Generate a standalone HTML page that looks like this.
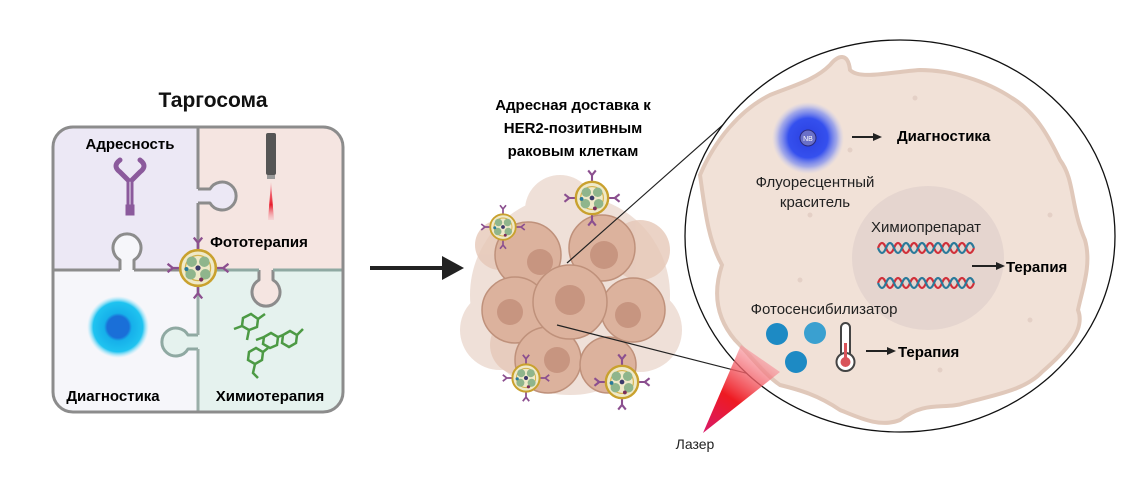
<!DOCTYPE html>
<html><head><meta charset="utf-8"><style>
html,body{margin:0;padding:0;background:#fff;}
svg{display:block;}
text{font-family:"Liberation Sans",sans-serif;}
.b{font-weight:bold;}
</style></head><body>
<svg width="1132" height="477" viewBox="0 0 1132 477" xmlns="http://www.w3.org/2000/svg">
<defs>
<clipPath id="pz"><rect x="53" y="127" width="290" height="285" rx="20"/></clipPath>
<radialGradient id="cy" cx="50%" cy="50%" r="50%">
<stop offset="0" stop-color="#1a6fd8"/><stop offset="0.35" stop-color="#1a6fd8"/><stop offset="0.45" stop-color="#16b0ea"/><stop offset="0.8" stop-color="#1fc3f0"/><stop offset="1" stop-color="#9fe6fa" stop-opacity="0"/>
</radialGradient>
<radialGradient id="nb" cx="50%" cy="50%" r="50%">
<stop offset="0" stop-color="#2a3fe0"/><stop offset="0.55" stop-color="#3550ee"/><stop offset="0.8" stop-color="#7f8ff0" stop-opacity="0.7"/><stop offset="1" stop-color="#b9c2f5" stop-opacity="0"/>
</radialGradient>
<linearGradient id="las" x1="0" y1="1" x2="0.6" y2="0">
<stop offset="0" stop-color="#d81a6a"/><stop offset="0.45" stop-color="#ee1a22"/><stop offset="1" stop-color="#f7a0a8" stop-opacity="0.6"/>
</linearGradient>
<linearGradient id="red" x1="0" y1="0" x2="0" y2="1">
<stop offset="0" stop-color="#f7b0b8"/><stop offset="0.6" stop-color="#e81c2c"/><stop offset="1" stop-color="#f7b0b8" stop-opacity="0.3"/>
</linearGradient>
<g id="ab"><path d="M0,0 V-8 M0,-8 L-4,-13 M0,-8 L4,-13" stroke="#8b4f8f" stroke-width="2.2" fill="none"/></g>
<g id="np">
<use href="#ab" transform="translate(0,-16)"/>
<use href="#ab" transform="translate(0,16) rotate(180)"/>
<use href="#ab" transform="translate(-16,0) rotate(-90)"/>
<use href="#ab" transform="translate(16,0) rotate(90)"/>
<circle r="17" fill="#efe9c8" stroke="#c9a12e" stroke-width="2.5"/>
<circle r="12" fill="none" stroke="#d4b24a" stroke-width="1.2"/>
<circle cx="-6" cy="-6" r="5" fill="#8fb58c"/><circle cx="6" cy="-6" r="5" fill="#8fb58c"/>
<circle cx="-7" cy="6" r="5" fill="#8fb58c"/><circle cx="7" cy="6" r="5" fill="#8fb58c"/>
<circle cx="0" cy="0" r="2.5" fill="#3b3a6a"/><circle cx="3" cy="11" r="2" fill="#7a2f5a"/><circle cx="-11" cy="1" r="2" fill="#2a7a9a"/>
</g>
</defs>

<!-- LEFT PUZZLE -->
<text x="213" y="107" text-anchor="middle" class="b" font-size="21" fill="#111">Таргосома</text>
<g clip-path="url(#pz)">
<rect x="53" y="127" width="145" height="143" fill="#ece8f5"/>
<rect x="198" y="127" width="145" height="143" fill="#f5e5e1"/>
<rect x="53" y="270" width="145" height="142" fill="#f6f6fa"/>
<rect x="198" y="270" width="145" height="142" fill="#e5f2ee"/>
</g>
<!-- knobs -->
<g stroke-width="3" stroke-linejoin="round">
<path d="M198,189 H210 A14,14 0 1 1 210,203 H198 Z" fill="#ece8f5" stroke="none"/>
<path d="M198,189 H210 A14,14 0 1 1 210,203 H198" fill="none" stroke="#8c8c8c"/>
<path d="M120,270 V260 A14,14 0 1 1 134,260 V270 Z" fill="#f6f6fa" stroke="none"/>
<path d="M120,270 V260 A14,14 0 1 1 134,260 V270" fill="none" stroke="#8c8c8c"/>
<path d="M259,270 V280 A14,14 0 1 0 273,280 V270 Z" fill="#f5e5e1" stroke="none"/>
<path d="M259,270 V280 A14,14 0 1 0 273,280 V270" fill="none" stroke="#8c8c8c"/>
<path d="M198,335 H188 A14,14 0 1 0 188,349 H198 Z" fill="#e5f2ee" stroke="none"/>
<path d="M198,335 H188 A14,14 0 1 0 188,349 H198" fill="none" stroke="#8fa9a2"/>
</g>
<!-- borders -->
<path d="M198,127 V189 M198,203 V270" stroke="#8c8c8c" stroke-width="3" fill="none"/>
<path d="M198,270 V335 M198,349 V412" stroke="#9aaea8" stroke-width="3" fill="none"/>
<path d="M53,270 H120 M134,270 H198" stroke="#8c8c8c" stroke-width="3" fill="none"/>
<path d="M198,270 H259 M273,270 H343" stroke="#8fa9a2" stroke-width="3" fill="none"/>
<rect x="53" y="127" width="290" height="285" rx="20" fill="none" stroke="#8c8c8c" stroke-width="3"/>

<text x="130" y="149" text-anchor="middle" class="b" font-size="15">Адресность</text>
<text x="259" y="247" text-anchor="middle" class="b" font-size="15">Фототерапия</text>
<text x="113" y="401" text-anchor="middle" class="b" font-size="15">Диагностика</text>
<text x="270" y="401" text-anchor="middle" class="b" font-size="15">Химиотерапия</text>
<!-- antibody icon -->
<g stroke="#8b5a9c" fill="none" stroke-linecap="round">
<path d="M120,160 q-8,6 0,12 l8,8 M140,160 q8,6 0,12 l-8,8" stroke-width="5"/>
<path d="M128,180 V207 M132,180 V207" stroke-width="3"/>
<rect x="126" y="205" width="8" height="10" fill="#8b5a9c" stroke-width="1"/>
</g>
<!-- laser device -->
<rect x="266" y="133" width="10" height="42" rx="2" fill="#555"/>
<rect x="267" y="175" width="8" height="4" fill="#999"/>
<path d="M271,182 L274,220 L268,220 Z" fill="url(#red)"/>
<!-- diagnostics blob -->
<circle cx="118" cy="327" r="31" fill="url(#cy)"/>
<!-- chem molecules -->
<g stroke="#4c9a44" stroke-width="2.5" fill="none">
<polygon points="243,318 251,314 258,319 257,327 249,330 242,326"/>
<path d="M258,319 l7,-5 M249,330 l-2,10 M242,326 l-8,3"/>
<polygon points="264,337 271,333 278,337 277,345 270,348 263,344"/>
<polygon points="283,335 290,331 297,335 296,343 289,347 282,343"/>
<path d="M278,337 l5,-2 M297,335 l6,-6 M256,340 l8,-3"/>
<polygon points="249,352 256,348 263,352 262,360 255,364 248,360"/>
<path d="M255,364 l-2,9 l5,5 M263,352 l5,-4"/>
</g>
<!-- center nanoparticle -->
<use href="#np" transform="translate(198,268) scale(1.05)"/>

<!-- BIG ARROW -->
<path d="M370,268 H445" stroke="#222" stroke-width="4"/>
<polygon points="442,256 464,268 442,280" fill="#222"/>

<!-- MIDDLE -->
<text x="573" y="110" text-anchor="middle" class="b" font-size="15">Адресная доставка к</text>
<text x="573" y="133" text-anchor="middle" class="b" font-size="15">HER2-позитивным</text>
<text x="573" y="156" text-anchor="middle" class="b" font-size="15">раковым клеткам</text>
<g fill="#efe0d8">
<circle cx="570" cy="295" r="100"/>
<circle cx="500" cy="330" r="40"/><circle cx="640" cy="330" r="42"/><circle cx="560" cy="210" r="35"/>
</g>
<g fill="#e6c8b8" opacity="0.8">
<circle cx="520" cy="345" r="30"/><circle cx="640" cy="250" r="30"/><circle cx="500" cy="245" r="25"/>
</g>
<g fill="#dcb29d" stroke="#bf917b" stroke-width="1.5">
<circle cx="528" cy="255" r="33"/><circle cx="602" cy="248" r="33"/>
<circle cx="515" cy="310" r="33"/><circle cx="633" cy="310" r="32"/>
<circle cx="548" cy="360" r="33"/><circle cx="608" cy="365" r="28"/>
<circle cx="570" cy="302" r="37"/>
</g>
<g fill="#c79580">
<circle cx="540" cy="262" r="13"/><circle cx="604" cy="255" r="14"/><circle cx="510" cy="312" r="13"/>
<circle cx="570" cy="300" r="15"/><circle cx="628" cy="315" r="13"/><circle cx="557" cy="360" r="13"/>
</g>
<use href="#np" transform="translate(592,198) scale(0.95)"/>
<use href="#np" transform="translate(503,227) scale(0.75)"/>
<use href="#np" transform="translate(526,378) scale(0.8)"/>
<use href="#np" transform="translate(622,382) scale(0.95)"/>
<!-- zoom lines -->
<path d="M567,263 L760,92 M557,325 L777,381" stroke="#222" stroke-width="1.2"/>

<!-- RIGHT CELL -->
<ellipse cx="900" cy="236" rx="215" ry="196" fill="#fff" stroke="#111" stroke-width="1.3"/>
<path d="M700,175 C715,140 740,110 770,95 C795,85 815,80 830,65 C838,55 848,52 850,70 C860,80 890,72 920,70 C950,70 985,80 1012,98 C1035,112 1048,135 1060,160 C1075,180 1070,205 1085,240 C1092,265 1082,290 1078,310 C1086,330 1065,352 1042,372 C1025,390 995,395 965,403 C945,410 925,400 900,420 C880,428 860,418 840,410 C818,395 800,390 780,385 C765,375 750,355 735,340 C718,320 712,295 722,265 C708,240 705,210 700,175 Z" fill="#f1e1d7" stroke="#e0c8ba" stroke-width="4"/>
<ellipse cx="928" cy="258" rx="76" ry="72" fill="#e5d5cf"/>
<g fill="#e4d0c6"><circle cx="915" cy="98" r="2.5"/><circle cx="850" cy="150" r="2.5"/><circle cx="810" cy="215" r="2.5"/><circle cx="1050" cy="215" r="2.5"/><circle cx="1030" cy="320" r="2.5"/><circle cx="940" cy="370" r="2.5"/><circle cx="800" cy="280" r="2.5"/></g>
<!-- NB -->
<circle cx="808" cy="138" r="36" fill="url(#nb)"/>
<circle cx="808" cy="138" r="8" fill="#6a70c8" stroke="#2a2a7a" stroke-width="1"/>
<text x="808" y="141" text-anchor="middle" font-size="7" fill="#fff">NB</text>
<path d="M852,137 H875" stroke="#222" stroke-width="2"/><polygon points="873,133 882,137 873,141" fill="#222"/>
<text x="897" y="141" class="b" font-size="15">Диагностика</text>
<text x="815" y="187" text-anchor="middle" font-size="15" fill="#222">Флуоресцентный</text>
<text x="815" y="207" text-anchor="middle" font-size="15" fill="#222">краситель</text>
<text x="926" y="232" text-anchor="middle" font-size="15" fill="#222">Химиопрепарат</text>
<!-- DNA -->
<path d="M878,248 q4,-10 8,0 t8,0 t8,0 t8,0 t8,0 t8,0 t8,0 t8,0 t8,0 t8,0 t8,0 t8,0" stroke="#d0303a" stroke-width="2.2" fill="none"/>
<path d="M878,248 q4,10 8,0 t8,0 t8,0 t8,0 t8,0 t8,0 t8,0 t8,0 t8,0 t8,0 t8,0 t8,0" stroke="#2a7a9a" stroke-width="2.2" fill="none"/>
<path d="M878,283 q4,-10 8,0 t8,0 t8,0 t8,0 t8,0 t8,0 t8,0 t8,0 t8,0 t8,0 t8,0 t8,0" stroke="#d0303a" stroke-width="2.2" fill="none"/>
<path d="M878,283 q4,10 8,0 t8,0 t8,0 t8,0 t8,0 t8,0 t8,0 t8,0 t8,0 t8,0 t8,0 t8,0" stroke="#2a7a9a" stroke-width="2.2" fill="none"/>
<path d="M972,266 H998" stroke="#222" stroke-width="2"/><polygon points="996,262 1005,266 996,270" fill="#222"/>
<text x="1006" y="272" class="b" font-size="15">Терапия</text>
<text x="824" y="314" text-anchor="middle" font-size="15" fill="#222">Фотосенсибилизатор</text>
<!-- laser -->
<polygon points="703,433 741,345 780,372" fill="url(#las)"/>
<text x="695" y="449" text-anchor="middle" font-size="14" fill="#222">Лазер</text>
<circle cx="777" cy="334" r="11" fill="#1d8ac4"/><circle cx="815" cy="333" r="11" fill="#3aa0d0"/><circle cx="796" cy="362" r="11" fill="#1d8ac4"/>
<!-- thermometer -->
<rect x="841" y="323" width="9" height="35" rx="4.5" fill="#fff" stroke="#444" stroke-width="2"/>
<circle cx="845.5" cy="362" r="9" fill="#fff" stroke="#444" stroke-width="2"/>
<circle cx="845.5" cy="362" r="5" fill="#d9535a"/>
<rect x="844" y="343" width="3" height="18" fill="#d9535a"/>
<path d="M866,351 H889" stroke="#222" stroke-width="2"/><polygon points="887,347 896,351 887,355" fill="#222"/>
<text x="898" y="357" class="b" font-size="15">Терапия</text>
</svg>
</body></html>
